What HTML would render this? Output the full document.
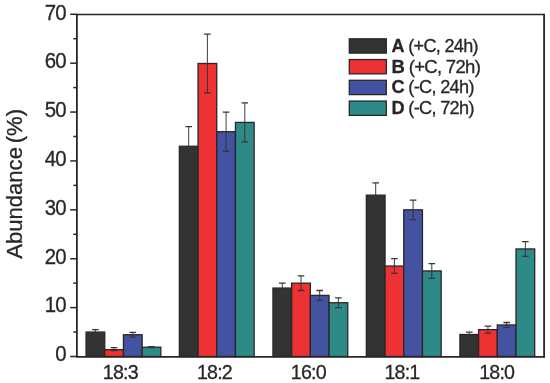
<!DOCTYPE html>
<html><head><meta charset="utf-8"><title>Abundance chart</title>
<style>
html,body{margin:0;padding:0;background:#fff;}
body{width:550px;height:383px;overflow:hidden;}
svg{display:block;}
text{font-family:"Liberation Sans",sans-serif;fill:#2a2627;stroke:#2a2627;stroke-width:0.3px;}
.ty{font-size:21.7px;letter-spacing:-0.85px;}
.tx{font-size:20.9px;letter-spacing:-0.83px;}
.yl{font-size:22.1px;word-spacing:-2.4px;}
.lg{font-size:18.9px;letter-spacing:-0.7px;}
</style></head><body>
<svg width="550" height="383" viewBox="0 0 550 383">
<rect x="0" y="0" width="550" height="383" fill="#ffffff"/>
<rect x="86.05" y="332.06" width="18.70" height="24.44" fill="#333333" stroke="#2a2627" stroke-width="1.3"/>
<rect x="104.75" y="349.66" width="18.70" height="6.84" fill="#ee3133" stroke="#2a2627" stroke-width="1.3"/>
<rect x="123.45" y="334.74" width="18.70" height="21.76" fill="#4353a2" stroke="#2a2627" stroke-width="1.3"/>
<rect x="142.15" y="347.21" width="18.70" height="9.29" fill="#2e8a86" stroke="#2a2627" stroke-width="1.3"/>
<path d="M95.40 329.61V334.50" stroke="#343434" stroke-width="0.95" fill="none"/>
<path d="M92.10 329.61H98.70M92.10 334.50H98.70" stroke="#363636" stroke-width="1.3" fill="none"/>
<path d="M114.10 347.70V350.63" stroke="#343434" stroke-width="0.95" fill="none"/>
<path d="M110.80 347.70H117.40M110.80 350.63H117.40" stroke="#363636" stroke-width="1.3" fill="none"/>
<path d="M132.80 332.30V337.19" stroke="#343434" stroke-width="0.95" fill="none"/>
<path d="M129.50 332.30H136.10M129.50 337.19H136.10" stroke="#363636" stroke-width="1.3" fill="none"/>
<path d="M151.50 346.72V347.70" stroke="#343434" stroke-width="0.95" fill="none"/>
<path d="M148.20 346.72H154.80M148.20 347.70H154.80" stroke="#363636" stroke-width="1.3" fill="none"/>
<rect x="179.35" y="146.27" width="18.70" height="210.23" fill="#333333" stroke="#2a2627" stroke-width="1.3"/>
<rect x="198.05" y="63.50" width="18.70" height="293.00" fill="#ee3133" stroke="#2a2627" stroke-width="1.3"/>
<rect x="216.75" y="131.70" width="18.70" height="224.80" fill="#4353a2" stroke="#2a2627" stroke-width="1.3"/>
<rect x="235.45" y="122.41" width="18.70" height="234.09" fill="#2e8a86" stroke="#2a2627" stroke-width="1.3"/>
<path d="M188.70 126.72V165.83" stroke="#343434" stroke-width="0.95" fill="none"/>
<path d="M185.40 126.72H192.00M185.40 165.83H192.00" stroke="#363636" stroke-width="1.3" fill="none"/>
<path d="M207.40 34.17V92.84" stroke="#343434" stroke-width="0.95" fill="none"/>
<path d="M204.10 34.17H210.70M204.10 92.84H210.70" stroke="#363636" stroke-width="1.3" fill="none"/>
<path d="M226.10 112.15V151.26" stroke="#343434" stroke-width="0.95" fill="none"/>
<path d="M222.80 112.15H229.40M222.80 151.26H229.40" stroke="#363636" stroke-width="1.3" fill="none"/>
<path d="M244.80 102.86V141.97" stroke="#343434" stroke-width="0.95" fill="none"/>
<path d="M241.50 102.86H248.10M241.50 141.97H248.10" stroke="#363636" stroke-width="1.3" fill="none"/>
<rect x="272.95" y="288.05" width="18.70" height="68.45" fill="#333333" stroke="#2a2627" stroke-width="1.3"/>
<rect x="291.65" y="283.16" width="18.70" height="73.34" fill="#ee3133" stroke="#2a2627" stroke-width="1.3"/>
<rect x="310.35" y="295.39" width="18.70" height="61.11" fill="#4353a2" stroke="#2a2627" stroke-width="1.3"/>
<rect x="329.05" y="302.72" width="18.70" height="53.78" fill="#2e8a86" stroke="#2a2627" stroke-width="1.3"/>
<path d="M282.30 283.16V292.94" stroke="#343434" stroke-width="0.95" fill="none"/>
<path d="M279.00 283.16H285.60M279.00 292.94H285.60" stroke="#363636" stroke-width="1.3" fill="none"/>
<path d="M301.00 275.83V290.50" stroke="#343434" stroke-width="0.95" fill="none"/>
<path d="M297.70 275.83H304.30M297.70 290.50H304.30" stroke="#363636" stroke-width="1.3" fill="none"/>
<path d="M319.70 290.50V300.28" stroke="#343434" stroke-width="0.95" fill="none"/>
<path d="M316.40 290.50H323.00M316.40 300.28H323.00" stroke="#363636" stroke-width="1.3" fill="none"/>
<path d="M338.40 297.83V307.61" stroke="#343434" stroke-width="0.95" fill="none"/>
<path d="M335.10 297.83H341.70M335.10 307.61H341.70" stroke="#363636" stroke-width="1.3" fill="none"/>
<rect x="366.35" y="195.16" width="18.70" height="161.34" fill="#333333" stroke="#2a2627" stroke-width="1.3"/>
<rect x="385.05" y="266.05" width="18.70" height="90.45" fill="#ee3133" stroke="#2a2627" stroke-width="1.3"/>
<rect x="403.75" y="209.83" width="18.70" height="146.67" fill="#4353a2" stroke="#2a2627" stroke-width="1.3"/>
<rect x="422.45" y="270.94" width="18.70" height="85.56" fill="#2e8a86" stroke="#2a2627" stroke-width="1.3"/>
<path d="M375.70 182.94V207.39" stroke="#343434" stroke-width="0.95" fill="none"/>
<path d="M372.40 182.94H379.00M372.40 207.39H379.00" stroke="#363636" stroke-width="1.3" fill="none"/>
<path d="M394.40 258.72V273.39" stroke="#343434" stroke-width="0.95" fill="none"/>
<path d="M391.10 258.72H397.70M391.10 273.39H397.70" stroke="#363636" stroke-width="1.3" fill="none"/>
<path d="M413.10 200.05V219.61" stroke="#343434" stroke-width="0.95" fill="none"/>
<path d="M409.80 200.05H416.40M409.80 219.61H416.40" stroke="#363636" stroke-width="1.3" fill="none"/>
<path d="M431.80 263.61V278.28" stroke="#343434" stroke-width="0.95" fill="none"/>
<path d="M428.50 263.61H435.10M428.50 278.28H435.10" stroke="#363636" stroke-width="1.3" fill="none"/>
<rect x="459.90" y="334.50" width="18.70" height="22.00" fill="#333333" stroke="#2a2627" stroke-width="1.3"/>
<rect x="478.60" y="329.61" width="18.70" height="26.89" fill="#ee3133" stroke="#2a2627" stroke-width="1.3"/>
<rect x="497.30" y="324.97" width="18.70" height="31.53" fill="#4353a2" stroke="#2a2627" stroke-width="1.3"/>
<rect x="516.00" y="248.94" width="18.70" height="107.56" fill="#2e8a86" stroke="#2a2627" stroke-width="1.3"/>
<path d="M469.25 332.06V336.94" stroke="#343434" stroke-width="0.95" fill="none"/>
<path d="M465.95 332.06H472.55M465.95 336.94H472.55" stroke="#363636" stroke-width="1.3" fill="none"/>
<path d="M487.95 326.19V333.03" stroke="#343434" stroke-width="0.95" fill="none"/>
<path d="M484.65 326.19H491.25M484.65 333.03H491.25" stroke="#363636" stroke-width="1.3" fill="none"/>
<path d="M506.65 322.52V327.41" stroke="#343434" stroke-width="0.95" fill="none"/>
<path d="M503.35 322.52H509.95M503.35 327.41H509.95" stroke="#363636" stroke-width="1.3" fill="none"/>
<path d="M525.35 241.61V256.28" stroke="#343434" stroke-width="0.95" fill="none"/>
<path d="M522.05 241.61H528.65M522.05 256.28H528.65" stroke="#363636" stroke-width="1.3" fill="none"/>
<path d="M76.5 14.55H543.9" stroke="#2a2627" stroke-width="1.6" fill="none"/>
<path d="M544.1 13.75V357.7" stroke="#2a2627" stroke-width="1.8" fill="none"/>
<path d="M76.9 13.75V356.8" stroke="#2a2627" stroke-width="1.8" fill="none"/>
<path d="M75.9 356.8H544.65" stroke="#2a2627" stroke-width="1.8" fill="none"/>
<path d="M70.2 356.50H76.5" stroke="#2a2627" stroke-width="1.5"/>
<path d="M73.3 332.06H76.5" stroke="#2a2627" stroke-width="1.5"/>
<path d="M70.2 307.61H76.5" stroke="#2a2627" stroke-width="1.5"/>
<path d="M73.3 283.16H76.5" stroke="#2a2627" stroke-width="1.5"/>
<path d="M70.2 258.72H76.5" stroke="#2a2627" stroke-width="1.5"/>
<path d="M73.3 234.27H76.5" stroke="#2a2627" stroke-width="1.5"/>
<path d="M70.2 209.83H76.5" stroke="#2a2627" stroke-width="1.5"/>
<path d="M73.3 185.38H76.5" stroke="#2a2627" stroke-width="1.5"/>
<path d="M70.2 160.94H76.5" stroke="#2a2627" stroke-width="1.5"/>
<path d="M73.3 136.49H76.5" stroke="#2a2627" stroke-width="1.5"/>
<path d="M70.2 112.05H76.5" stroke="#2a2627" stroke-width="1.5"/>
<path d="M73.3 87.60H76.5" stroke="#2a2627" stroke-width="1.5"/>
<path d="M70.2 63.16H76.5" stroke="#2a2627" stroke-width="1.5"/>
<path d="M73.3 38.71H76.5" stroke="#2a2627" stroke-width="1.5"/>
<path d="M70.2 14.27H76.5" stroke="#2a2627" stroke-width="1.5"/>
<text class="ty" x="65.9" y="361.40" text-anchor="end" transform="translate(65.9 0) scale(0.94 1) translate(-65.9 0)">0</text>
<text class="ty" x="65.9" y="312.51" text-anchor="end" transform="translate(65.9 0) scale(0.94 1) translate(-65.9 0)">10</text>
<text class="ty" x="65.9" y="263.62" text-anchor="end" transform="translate(65.9 0) scale(0.94 1) translate(-65.9 0)">20</text>
<text class="ty" x="65.9" y="214.73" text-anchor="end" transform="translate(65.9 0) scale(0.94 1) translate(-65.9 0)">30</text>
<text class="ty" x="65.9" y="165.84" text-anchor="end" transform="translate(65.9 0) scale(0.94 1) translate(-65.9 0)">40</text>
<text class="ty" x="65.9" y="116.95" text-anchor="end" transform="translate(65.9 0) scale(0.94 1) translate(-65.9 0)">50</text>
<text class="ty" x="65.9" y="68.06" text-anchor="end" transform="translate(65.9 0) scale(0.94 1) translate(-65.9 0)">60</text>
<text class="ty" x="65.9" y="19.57" text-anchor="end" transform="translate(65.9 0) scale(0.94 1) translate(-65.9 0)">70</text>
<text class="tx" x="120.30" y="379.3" text-anchor="middle" transform="translate(120.30 0) scale(0.94 1) translate(-120.30 0)">18:3</text>
<text class="tx" x="214.45" y="379.3" text-anchor="middle" transform="translate(214.45 0) scale(0.94 1) translate(-214.45 0)">18:2</text>
<text class="tx" x="308.35" y="379.3" text-anchor="middle" transform="translate(308.35 0) scale(0.94 1) translate(-308.35 0)">16:0</text>
<text class="tx" x="401.95" y="379.3" text-anchor="middle" transform="translate(401.95 0) scale(0.94 1) translate(-401.95 0)">18:1</text>
<text class="tx" x="496.70" y="379.3" text-anchor="middle" transform="translate(496.70 0) scale(0.94 1) translate(-496.70 0)">18:0</text>
<text class="yl" text-anchor="middle" transform="translate(21.9 183.9) rotate(-90) scale(1.0 1)">Abundance (%)</text>
<rect x="349.3" y="38.80" width="37.0" height="14.3" fill="#333333" stroke="#2a2627" stroke-width="1.3"/>
<text class="lg" x="0" y="0" transform="translate(391.5 51.80) scale(0.956 1)"><tspan font-weight="bold">A</tspan> (+C, 24h)</text>
<rect x="349.3" y="59.55" width="37.0" height="14.3" fill="#ee3133" stroke="#2a2627" stroke-width="1.3"/>
<text class="lg" x="0" y="0" transform="translate(391.5 72.55) scale(0.98 1)"><tspan font-weight="bold">B</tspan> (+C, 72h)</text>
<rect x="349.3" y="80.30" width="37.0" height="14.3" fill="#4353a2" stroke="#2a2627" stroke-width="1.3"/>
<text class="lg" x="0" y="0" transform="translate(391.5 93.30) scale(0.96 1)"><tspan font-weight="bold">C</tspan> (-C, 24h)</text>
<rect x="349.3" y="101.05" width="37.0" height="14.3" fill="#2e8a86" stroke="#2a2627" stroke-width="1.3"/>
<text class="lg" x="0" y="0" transform="translate(391.5 114.05) scale(0.96 1)"><tspan font-weight="bold">D</tspan> (-C, 72h)</text>
</svg>
</body></html>
